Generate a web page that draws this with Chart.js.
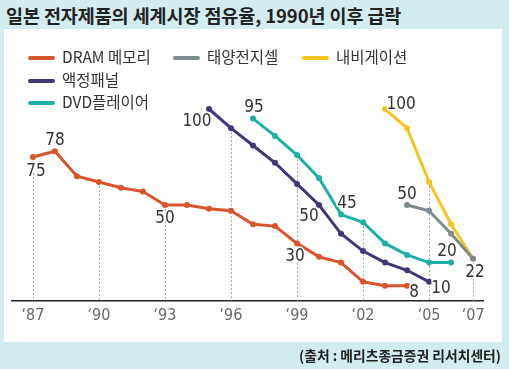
<!DOCTYPE html>
<html>
<head>
<meta charset="utf-8">
<script src="https://cdn.jsdelivr.net/npm/chart.js@4.4.1/dist/chart.umd.min.js"></script>
<style>
  body { margin: 0; width: 509px; height: 369px; background: #d3ecef; position: relative; overflow: hidden;
         font-family: 'Noto Sans CJK KR', 'Noto Sans', sans-serif; }
  #title { position: absolute; left: 6px; top: 2px; font-size: 18.5px; font-weight: bold; color: #222; white-space: nowrap; letter-spacing: -0.1px; }
  #panel { position: absolute; left: 4px; top: 29px; width: 498px; height: 313px; background: #fff; }
  #chart { position: absolute; left: 0; top: 0; }
  .lg { position: absolute; font-size: 15.5px; color: #333; white-space: nowrap; line-height: 18px; }
  .lg span { display: inline-block; width: 27px; height: 4px; border-radius: 2px; vertical-align: middle; margin-right: 7px; position: relative; top: -1px; }
  #source { position: absolute; right: 8px; top: 345px; font-size: 13.8px; font-weight: bold; color: #222; white-space: nowrap; }
</style>
</head>
<body>
<div id="title">일본 전자제품의 세계시장 점유율, 1990년 이후 급락</div>
<div id="panel"></div>
<canvas id="chart" width="509" height="369"></canvas>
<div id="legend"></div>
<div id="source">(출처 : 메리츠종금증권 리서치센터)</div>
<script>
// 연도별 점유율 (%)
var years = [1987, 1988, 1989, 1990, 1991, 1992, 1993, 1994, 1995, 1996, 1997,
             1998, 1999, 2000, 2001, 2002, 2003, 2004, 2005, 2006, 2007];
var dram  = [75, 78, 65, 62, 59, 57, 50, 50, 48, 47, 40, 39, 30, 23, 20, 10, 8, 8, null, null, null];
var lcd   = [null, null, null, null, null, null, null, null, 100, 90, 81, 72, 61, 50, 35, 26, 20, 16, 10, null, null];
var dvd   = [null, null, null, null, null, null, null, null, null, null, 95, 86, 76, 64, 45, 41, 30, 24, 20, 20, null];
var solar = [null, null, null, null, null, null, null, null, null, null, null, null, null, null, null, null, null, 50, 47, 35, 22];
var navi  = [null, null, null, null, null, null, null, null, null, null, null, null, null, null, null, null, 100, 90, 62, 40, 22];

var seriesNames  = ['DRAM 메모리', '액정패널', 'DVD플레이어', '태양전지셀', '내비게이션'];
var seriesValues = [dram, lcd, dvd, solar, navi];
var seriesColors = ['#d8542a', '#3e3878', '#1bb0a8', '#7e8b8e', '#f6c41f'];

var tickYears  = [1987, 1990, 1993, 1996, 1999, 2002, 2005, 2007];
var tickLabels = ['‘87', '‘90', '‘93', '‘96', '‘99', '‘02', '‘05', '‘07'];

// 값 표시할 점: [시리즈, 연도, dx, dy]
var annotations = [
    [0, 1987, 3, 15], [0, 1988, 0, -11], [0, 1993, 0, 14], [0, 1999, -2, 13], [0, 2004, 7, 7],
    [1, 1995, -12, 13], [1, 2000, -10, 12], [1, 2005, 12, 7],
    [2, 1997, 1, -11], [2, 2001, 6, -11], [2, 2006, -4, -11],
    [4, 2003, 16, -4],
    [3, 2004, 0, -10], [3, 2007, 2, 14]
];

// 범례 위치
var legendPos = [[28, 47], [28, 70], [28, 92], [173, 47], [302, 47]];
var legend = document.getElementById('legend');
seriesNames.forEach(function (name, i) {
    var d = document.createElement('div');
    d.className = 'lg';
    d.style.left = legendPos[i][0] + 'px';
    d.style.top = legendPos[i][1] + 'px';
    d.innerHTML = '<span style="background:' + seriesColors[i] + '"></span>' + name;
    legend.appendChild(d);
});

var numFont = "17px 'Liberation Sans Narrow', 'DejaVu Sans Condensed', sans-serif";

var guideLines = {
    id: 'guideLines',
    beforeDatasetsDraw: function (chart) {
        var ctx = chart.ctx, xs = chart.scales.x, ys = chart.scales.y;
        ctx.save();
        ctx.strokeStyle = '#aaa';
        ctx.lineWidth = 1;
        ctx.setLineDash([2, 2]);
        tickYears.forEach(function (yr) {
            var idx = years.indexOf(yr);
            var top = null;
            seriesValues.forEach(function (vals) {
                if (vals[idx] !== null && (top === null || vals[idx] > top)) top = vals[idx];
            });
            if (top === null) return;
            var x = Math.round(xs.getPixelForValue(yr)) + 0.5;
            ctx.beginPath();
            ctx.moveTo(x, ys.getPixelForValue(top));
            ctx.lineTo(x, chart.chartArea.bottom);
            ctx.stroke();
        });
        ctx.restore();
    }
};

var valueLabels = {
    id: 'valueLabels',
    afterDatasetsDraw: function (chart) {
        var ctx = chart.ctx, xs = chart.scales.x, ys = chart.scales.y;
        ctx.save();
        ctx.font = numFont;
        ctx.textAlign = 'center';
        ctx.textBaseline = 'middle';
        ctx.lineJoin = 'round';
        annotations.forEach(function (a) {
            var v = seriesValues[a[0]][years.indexOf(a[1])];
            var x = xs.getPixelForValue(a[1]) + a[2];
            var y = ys.getPixelForValue(v) + a[3];
            ctx.strokeStyle = '#fff';
            ctx.lineWidth = 3;
            ctx.strokeText(String(v), x, y);
            ctx.fillStyle = '#333';
            ctx.fillText(String(v), x, y);
        });
        ctx.restore();
    }
};

var ctx = document.getElementById('chart').getContext('2d');
var myChart = new Chart(ctx, {
    type: 'line',
    data: {
        datasets: seriesValues.map(function (vals, i) {
            return {
                label: seriesNames[i],
                data: years.map(function (yr, j) { return { x: yr, y: vals[j] }; }),
                borderColor: seriesColors[i],
                backgroundColor: seriesColors[i],
                borderWidth: 3,
                pointRadius: 3,
                pointBorderWidth: 0,
                tension: 0,
                clip: false
            };
        })
    },
    options: {
        responsive: false,
        animation: false,
        devicePixelRatio: 1,
        layout: { padding: { left: 12, right: 26, top: 109, bottom: 38 } },
        plugins: {
            legend: { display: false },
            tooltip: { enabled: false }
        },
        scales: {
            x: {
                type: 'linear',
                min: 1986.05,
                max: 2007.45,
                afterBuildTicks: function (scale) {
                    scale.ticks = tickYears.map(function (v) { return { value: v }; });
                },
                afterFit: function (scale) { scale.height = 30; },
                grid: { display: false, drawTicks: false },
                border: { display: true, color: '#222', width: 1.5 },
                ticks: {
                    autoSkip: false,
                    maxRotation: 0,
                    padding: 5,
                    color: '#666',
                    font: { family: "'Liberation Sans Narrow', 'DejaVu Sans Condensed', sans-serif", size: 16 },
                    callback: function (v) { return tickLabels[tickYears.indexOf(v)]; }
                }
            },
            y: {
                display: false,
                min: 0,
                max: 100
            }
        }
    },
    plugins: [guideLines, valueLabels]
});
</script>
</body>
</html>
